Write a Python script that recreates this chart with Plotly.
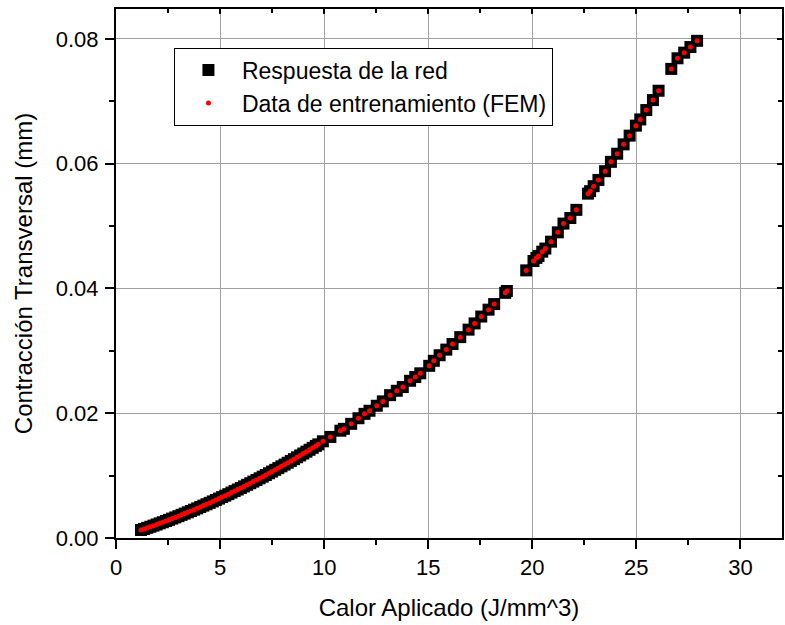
import plotly.graph_objects as go

# Calor Aplicado (J/mm^3)
calor = [
    1.20, 1.35, 1.50, 1.65, 1.80, 1.95, 2.10, 2.25, 2.40, 2.55, 2.70, 2.85,
    3.00, 3.15, 3.30, 3.45, 3.60, 3.75, 3.90, 4.05, 4.20, 4.35, 4.50, 4.65,
    4.80, 4.95, 5.10, 5.25, 5.40, 5.55, 5.70, 5.85, 6.00, 6.15, 6.30, 6.45,
    6.60, 6.75, 6.90, 7.05, 7.20, 7.35, 7.50, 7.65, 7.80, 7.95, 8.10, 8.25,
    8.40, 8.55, 8.70, 8.85, 9.00, 9.15, 9.30, 9.45, 9.60, 9.72,
    9.94, 10.30, 10.78, 10.95, 11.30, 11.65, 11.94, 12.18, 12.53, 12.82,
    13.17, 13.49, 13.78, 14.13, 14.38, 14.62, 15.05, 15.27, 15.55, 15.87,
    16.17, 16.54, 16.94, 17.23, 17.55, 17.90, 18.17, 18.70, 18.78,
    19.71, 20.06, 20.20, 20.30, 20.48, 20.63, 20.90, 21.23, 21.50, 21.83,
    22.12, 22.68, 22.78, 22.95, 23.18, 23.50, 23.78, 24.08, 24.39, 24.68,
    24.98, 25.19, 25.48, 25.80, 26.07, 26.68, 26.98, 27.30, 27.60, 27.92,
]

# Contracción Transversal (mm)
contraccion = [
    0.00128, 0.00145, 0.00163, 0.00180, 0.00198, 0.00216, 0.00235, 0.00253,
    0.00272, 0.00291, 0.00311, 0.00330, 0.00350, 0.00371, 0.00391, 0.00412,
    0.00433, 0.00454, 0.00475, 0.00497, 0.00519, 0.00541, 0.00563, 0.00586,
    0.00609, 0.00632, 0.00656, 0.00679, 0.00703, 0.00728, 0.00752, 0.00777,
    0.00802, 0.00827, 0.00852, 0.00878, 0.00904, 0.00930, 0.00957, 0.00983,
    0.01010, 0.01038, 0.01065, 0.01093, 0.01121, 0.01149, 0.01177, 0.01206,
    0.01235, 0.01264, 0.01294, 0.01324, 0.01354, 0.01384, 0.01414, 0.01445,
    0.01476, 0.01501,
    0.0155, 0.0162, 0.0172, 0.0175, 0.0183, 0.0192, 0.0199, 0.0204, 0.0212,
    0.0219, 0.0229, 0.0236, 0.0242, 0.0252, 0.0258, 0.0264, 0.0276, 0.0284,
    0.0293, 0.0302, 0.0311, 0.0322, 0.0334, 0.0344, 0.0355, 0.0366, 0.0375,
    0.0393, 0.0396,
    0.0429, 0.0444, 0.0449, 0.0452, 0.0459, 0.0464, 0.0475, 0.0490, 0.0504,
    0.0513, 0.0526, 0.0552, 0.0556, 0.0564, 0.0574, 0.0588, 0.0603, 0.0616,
    0.0631, 0.0645, 0.0661, 0.0671, 0.0686, 0.0702, 0.0717, 0.0752, 0.0769,
    0.0778, 0.0787, 0.0797,
]

serie_red = "Respuesta de la red"
serie_fem = "Data de entrenamiento (FEM)"
x_titulo = "Calor Aplicado (J/mm^3)"
y_titulo = "Contracción Transversal (mm)"
x_rango = [0, 32]
y_rango = [0, 0.0848]

FONT = "Liberation Sans, Arial, sans-serif"

fig = go.Figure()
fig.add_trace(go.Scatter(
    x=calor, y=contraccion, mode="markers", name=serie_red,
    marker=dict(symbol="square", size=12, color="black",
                line=dict(width=0)),
))
fig.add_trace(go.Scatter(
    x=calor, y=contraccion, mode="markers", name=serie_fem,
    marker=dict(symbol="circle", size=5, color="#ff0000",
                line=dict(width=0)),
))
# empty trace to activate the mirrored (top/right) axes
fig.add_trace(go.Scatter(x=[], y=[], xaxis="x2", yaxis="y2",
                         showlegend=False, hoverinfo="skip"))

common = dict(showline=True, linecolor="black", linewidth=2,
              showgrid=True, gridcolor="#a0a0a0", gridwidth=1,
              zeroline=False,
              tickfont=dict(family=FONT, size=22, color="black"))

fig.update_layout(
    width=785, height=625,
    margin=dict(l=116, r=3, t=9, b=87),
    paper_bgcolor="white", plot_bgcolor="white",
    font=dict(family=FONT, color="black"),
    xaxis=dict(range=x_rango, dtick=5, tick0=0,
               ticks="outside", ticklen=9, tickwidth=2, tickcolor="black",
               minor=dict(ticks="outside", ticklen=5, tickwidth=2,
                          tickcolor="black", dtick=2.5, tick0=0, showgrid=False),
               title=dict(text=x_titulo, font=dict(family=FONT, size=24),
                          standoff=20),
               **common),
    yaxis=dict(range=y_rango, dtick=0.02, tick0=0, tickformat=".2f",
               ticks="outside", ticklen=9, tickwidth=2, tickcolor="black",
               minor=dict(ticks="outside", ticklen=5, tickwidth=2,
                          tickcolor="black", dtick=0.01, tick0=0, showgrid=False),
               title=dict(text=y_titulo, font=dict(family=FONT, size=24),
                          standoff=16),
               ticklabelstandoff=2,
               **common),
    xaxis2=dict(overlaying="x", side="top", anchor="y2", range=x_rango,
                dtick=5, tick0=0, showticklabels=False, showgrid=False,
                showline=True, linecolor="black", linewidth=2, zeroline=False,
                ticks="inside", ticklen=5, tickwidth=2, tickcolor="black",
                minor=dict(ticks="inside", ticklen=4, tickwidth=2,
                           tickcolor="black", dtick=2.5, tick0=0)),
    yaxis2=dict(overlaying="y", side="right", anchor="x2", range=y_rango,
                dtick=0.02, tick0=0, showticklabels=False, showgrid=False,
                showline=True, linecolor="black", linewidth=2, zeroline=False,
                ticks="inside", ticklen=5, tickwidth=2, tickcolor="black",
                minor=dict(ticks="inside", ticklen=4, tickwidth=2,
                           tickcolor="black", dtick=0.01, tick0=0)),
    legend=dict(x=0.087, y=0.927, xanchor="left", yanchor="top",
                bgcolor="white", bordercolor="black", borderwidth=1,
                font=dict(family=FONT, size=23, color="black"),
                tracegroupgap=0, itemsizing="trace", itemwidth=57),
    showlegend=True,
)

fig.write_html(
    "out.html",
    config={"displayModeBar": False},
    post_script="document.body.style.margin='0';document.body.style.overflow='hidden';",
)
